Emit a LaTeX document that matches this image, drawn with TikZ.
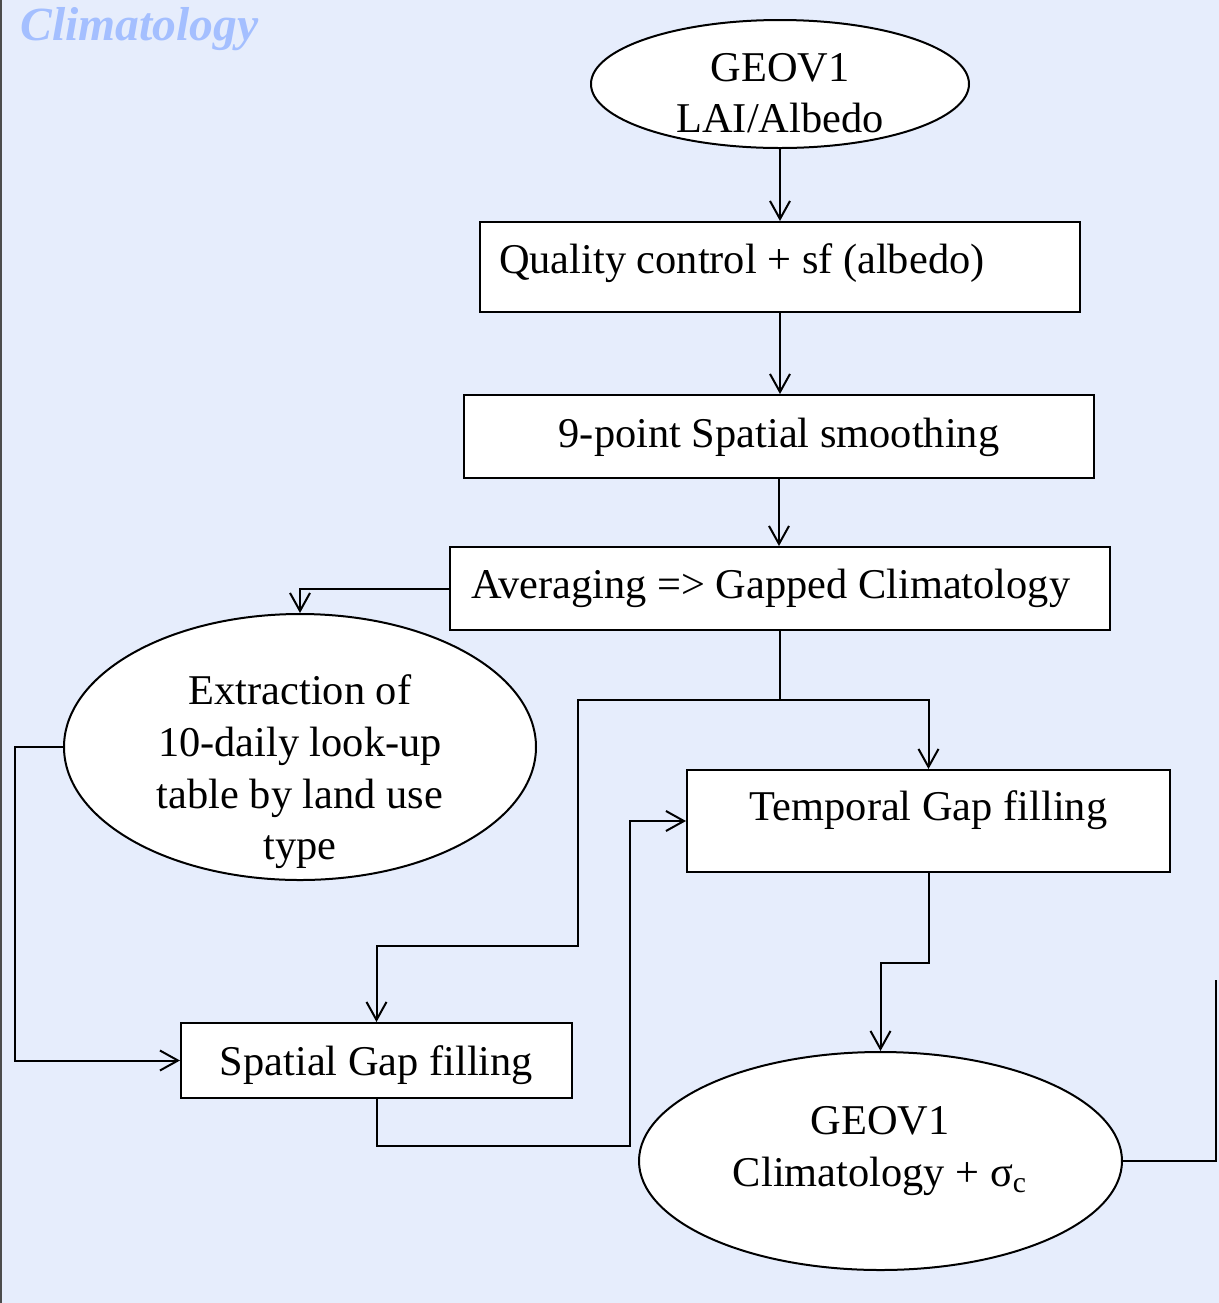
\documentclass[tikz,border=0pt]{standalone}
\usepackage{fontspec}
\setmainfont{Liberation Serif}
\usetikzlibrary{shapes.geometric,arrows.meta}
\definecolor{panelbg}{RGB}{230,237,252}
\definecolor{titleblue}{RGB}{164,191,255}
\begin{document}
\begin{tikzpicture}[x=0.5pt,y=-0.5pt,
		every node/.style={font=\fontsize{21.2}{25.8}\selectfont},
		flowbox/.style={draw,fill=white,line width=1pt,inner xsep=0pt,inner ysep=0pt},
		flowoval/.style={draw,fill=white,line width=1pt,ellipse,inner sep=0pt},
		flowtext/.style={align=center,inner sep=0pt},
		link/.style={-{Straight Barb[length=9pt,width=10pt]},line width=1pt}]
			\path[use as bounding box,fill=panelbg] (0,0) rectangle (1219,1303);
			\draw[line width=1pt,black!70] (1,0) -- (1,1303); % linker Rand
			\node[anchor=base west,inner sep=0pt,text=titleblue,font=\fontsize{23.8}{28}\selectfont\bfseries\itshape] (title) at (20,40) {Climatology};
			% Ellipsen
			\node[flowoval,minimum width=189pt,minimum height=64pt] (geo) at (780,84) {};
			\node[flowtext] (geotxt) at (780,93) {GEOV1\\LAI/Albedo};
			\node[flowoval,minimum width=236pt,minimum height=133pt] (ext) at (300,747) {};
			\node[flowtext] (exttxt) at (300,772) {Extraction of\\10-daily look-up\\table by land use\\type};
			\node[flowoval,minimum width=241.5pt,minimum height=109pt] (clim) at (880.5,1161) {};
			\node[flowtext] (climtxt) at (880,1151) {GEOV1\\Climatology + σ\textsubscript{c}};
			% Kaesten
			\node[flowbox,inner xsep=9.5pt,text height=25.5pt,text depth=19.5pt] (qc) at (780,267) {\makebox[281pt][l]{Quality control + sf (albedo)}};
			\node[flowbox,minimum width=315pt,text height=26pt,text depth=15.5pt] (smooth) at (779,436.5) {9-point Spatial smoothing};
			\node[flowbox,inner xsep=10.5pt,text height=25.5pt,text depth=16pt] (avg) at (780,588.5) {\makebox[309pt][l]{Averaging => Gapped Climatology}};
			\node[flowbox,minimum width=241.5pt,text height=25pt,text depth=26pt] (tgf) at (928.5,821) {Temporal Gap filling};
			\node[flowbox,minimum width=195.5pt,text height=26pt,text depth=11.5pt] (sgf) at (376.5,1060.5) {Spatial Gap filling};
			% Verbindungen
			\coordinate (fork) at (780,700);
			\coordinate (jog) at (578,946);
			\coordinate (loop) at (630,1146);
			\coordinate (exit) at (1216,980);
			\draw[link] (geo.south) -- (qc.north);
			\draw[link] (qc.south) -- (qc.south |- smooth.north);
			\draw[link] (smooth.south) -- (smooth.south |- avg.north);
			\draw[link] (avg.west) -| (ext.north);
			\draw[link] (avg.south) -- (fork) -| (tgf.north);
			\draw[link] (fork) -| (jog) -| (sgf.north);
			\draw[link] (ext.west) -- ++(-48,0) |- (sgf.west);
			\draw[link] (sgf.south) |- (loop) |- (tgf.west);
			\draw[link] (tgf.south) -- ++(0,90) -| (clim.north);
			\draw[line width=1pt] (clim.east) -| (exit);
		\end{tikzpicture}
\end{document}
